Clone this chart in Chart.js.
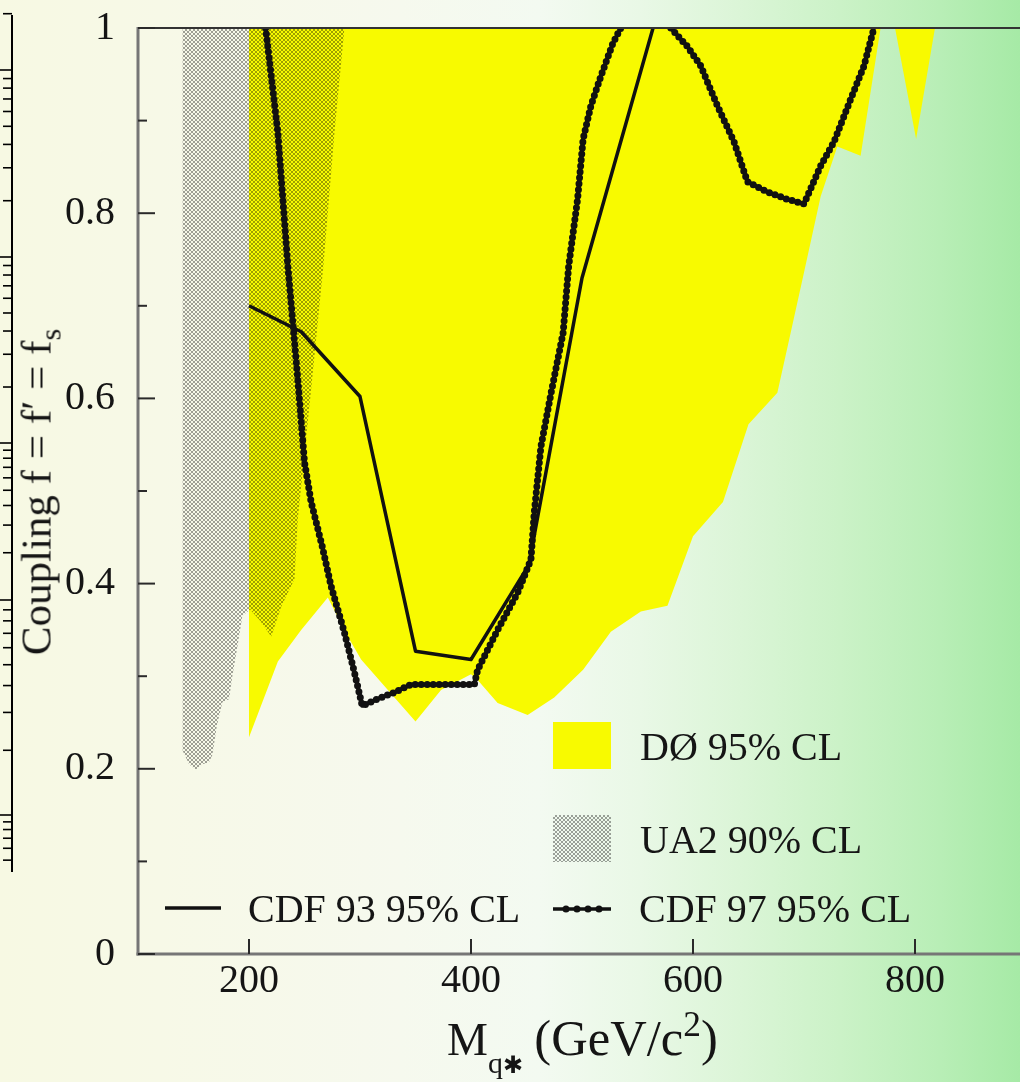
<!DOCTYPE html>
<html>
<head>
<meta charset="utf-8">
<script src="https://cdn.jsdelivr.net/npm/chart.js@4.4.1/dist/chart.umd.min.js"></script>
<style>
  html, body { margin: 0; padding: 0; }
  body {
    width: 1020px; height: 1082px; overflow: hidden; position: relative;
    background: linear-gradient(to right, #f7f9e3 0px, #f7f9e7 160px, #f6f9ee 400px, #f3faf1 540px,
                #e9f8e6 640px, #dbf5d7 740px, #cbf2c7 840px, #b8eeb6 940px, #a6eaa6 1020px);
    font-family: 'Liberation Serif', 'DejaVu Serif', serif;
    color: #151515;
  }
  #wrap { position: absolute; left: 0; top: 0; width: 1040px; height: 1082px; }
  .txt { position: absolute; font-size: 40px; line-height: 40px; white-space: nowrap; }
  .txt sub, .txt sup { font-size: 0.7em; line-height: 0; position: relative; vertical-align: baseline; }
  .txt sub { top: 0.32em; }
  .txt sup { top: -0.55em; }
  #ytitle { left: 36px; top: 492px; font-size: 43px; line-height: 43px; transform: translate(-50%, -50%) rotate(-90deg); }
  #xtitle { left: 447px; top: 1017px; font-size: 46px; line-height: 46px; }
  #xtitle sub { font-size: 0.65em; top: 0.6em; }
  #xtitle sub span { font-size: 0.8em; }
  #xtitle .unit { font-size: 1.1em; line-height: 0; }
</style>
</head>
<body>
<div id="wrap"><canvas id="limits" width="1040" height="1082"></canvas></div>

<div class="txt" style="left:640px; top:727px">DØ 95% CL</div>
<div class="txt" style="left:640px; top:820px">UA2 90% CL</div>
<div class="txt" style="left:248px; top:889px">CDF 93 95% CL</div>
<div class="txt" style="left:639px; top:889px">CDF 97 95% CL</div>
<div class="txt" id="ytitle">Coupling f = f′ = f<sub>s</sub></div>
<div class="txt" id="xtitle">M<sub>q<span>✱</span></sub> <span class="unit">(GeV/c<sup>2</sup>)</span></div>

<script>
// axis ranges and ticks
const massRange = [100, 900];
const massTicks = [200, 400, 600, 800];
const couplingTicks = [0, 0.2, 0.4, 0.6, 0.8, 1];
const couplingMinorTicks = [0.1, 0.3, 0.5, 0.7, 0.9];

// DØ 95% CL: lower edge of the excluded region (excluded up to f = 1)
const d0Mass     = [200, 226, 247, 271, 288, 301, 350, 373, 400, 406, 424, 451, 475, 501, 526, 553, 577, 600, 627, 650, 676, 688, 700, 715, 730, 751, 769, 782, 801, 818];
const d0Coupling = [0.234, 0.316, 0.350, 0.385, 0.345, 0.318, 0.251, 0.285, 0.302, 0.296, 0.271, 0.258, 0.277, 0.307, 0.348, 0.370, 0.376, 0.451, 0.488, 0.572, 0.606, 0.671, 0.736, 0.818, 0.872, 0.862, 1.0, 1.0, 0.88, 1.0];

// UA2 90% CL: lower edge of the excluded region
const ua2Mass     = [140, 146, 152, 158, 164, 167, 171, 176, 182, 185, 190, 194, 201, 210, 220, 229, 241, 244, 256, 267, 277, 286];
const ua2Coupling = [0.22, 0.205, 0.199, 0.205, 0.207, 0.215, 0.246, 0.272, 0.275, 0.30, 0.335, 0.365, 0.372, 0.36, 0.343, 0.375, 0.405, 0.47, 0.61, 0.743, 0.887, 1.0];

// CDF 1993 limit
const cdf93Mass     = [200, 247, 300, 350, 400, 452, 500, 564];
const cdf93Coupling = [0.70, 0.672, 0.602, 0.327, 0.318, 0.42, 0.73, 1.0];

// CDF 1997 limit (null: the curve runs above f = 1)
const cdf97Mass     = [215, 226, 235, 244, 250, 256, 266, 274, 286, 295, 302, 315, 330, 346, 358, 386, 403, 406, 424, 442, 454, 457, 463, 472, 483, 488, 496, 501, 508, 517, 528, 535, 557, 580, 595, 607, 622, 637, 649, 667, 685, 700, 715, 727, 742, 754, 763];
const cdf97Coupling = [1.0, 0.887, 0.743, 0.62, 0.531, 0.488, 0.44, 0.397, 0.347, 0.304, 0.268, 0.275, 0.282, 0.291, 0.291, 0.291, 0.291, 0.307, 0.35, 0.39, 0.426, 0.477, 0.548, 0.605, 0.671, 0.743, 0.815, 0.88, 0.916, 0.948, 0.984, 1.0, null, 1.0, 0.98, 0.959, 0.916, 0.877, 0.834, 0.823, 0.815, 0.81, 0.851, 0.877, 0.923, 0.959, 1.0];

const pts = (xs, ys) => xs.map((x, i) => ({ x, y: ys[i] }));

const YELLOW = '#f8fa00';
const INK = '#111';
const serif = "'Liberation Serif', 'DejaVu Serif', serif";

function crossHatch() {
    const c = document.createElement('canvas');
    c.width = c.height = 4;
    const g = c.getContext('2d');
    g.fillStyle = 'rgba(0,0,0,0.36)';
    for (let i = 0; i < 4; i++) {
        g.fillRect(i, i, 1, 1);
        g.fillRect(3 - i, i, 1, 1);
    }
    return g.createPattern(c, 'repeat');
}
const hatch = crossHatch();

// keep the tick labels from pushing the plot area around
const noOverhang = s => { s.paddingTop = s.paddingBottom = s.paddingLeft = s.paddingRight = 0; };

// frame, inward ticks, the edge of the neighbouring panel, legend keys
const decorations = {
    id: 'decorations',
    afterDatasetsDraw(chart) {
        const { ctx, chartArea: a, scales: { x, y } } = chart;
        const seg = (x1, y1, x2, y2) => { ctx.beginPath(); ctx.moveTo(x1, y1); ctx.lineTo(x2, y2); ctx.stroke(); };
        ctx.save();

        // top edge
        ctx.strokeStyle = '#333';
        ctx.lineWidth = 2;
        seg(a.left, a.top, a.right, a.top);

        // left and bottom axes
        ctx.strokeStyle = '#767676';
        ctx.lineWidth = 3;
        seg(a.left, a.top - 1, a.left, a.bottom + 1.5);
        seg(a.left - 1.5, a.bottom, a.right, a.bottom);

        // inward ticks
        ctx.strokeStyle = '#2a2a2a';
        ctx.lineWidth = 2;
        couplingTicks.forEach(v => { const py = y.getPixelForValue(v); seg(a.left, py, a.left + 17, py); });
        couplingMinorTicks.forEach(v => { const py = y.getPixelForValue(v); seg(a.left, py, a.left + 9, py); });
        massTicks.forEach(v => { const px = x.getPixelForValue(v); seg(px, a.bottom, px, a.bottom - 15); });

        // right edge of the neighbouring (log scale) panel
        ctx.strokeStyle = '#000';
        ctx.lineWidth = 2;
        seg(12, 15, 12, 872);
        const decades = [70, 257, 443, 600, 815, 965];
        ctx.lineWidth = 1.6;
        for (let d = 0; d < decades.length - 1; d++) {
            const top = decades[d], h = decades[d + 1] - top;
            seg(0, top, 12, top);
            for (let k = 2; k <= 9; k++) {
                const py = top + (1 - Math.log10(k)) * h;
                if (py < 872) seg(3, py, 12, py);
            }
        }
        seg(3, 70 - Math.log10(2) * 187, 12, 70 - Math.log10(2) * 187);

        // legend keys
        ctx.fillStyle = YELLOW;
        ctx.fillRect(553, 722, 58, 47);
        ctx.fillStyle = hatch;
        ctx.fillRect(553, 815, 58, 47);
        ctx.strokeStyle = INK;
        ctx.lineWidth = 3.5;
        seg(165, 908, 221, 908);
        ctx.lineWidth = 3.5;
        seg(553, 909, 611, 909);
        ctx.lineWidth = 7;
        ctx.lineCap = 'round';
        ctx.setLineDash([0, 11]);
        seg(566, 909, 604, 909);
        ctx.restore();
    }
};

new Chart(document.getElementById('limits'), {
    type: 'line',
    data: {
        datasets: [
            {
                // CDF 97 beads along the curve
                data: pts(cdf97Mass, cdf97Coupling),
                borderColor: INK,
                borderWidth: 7,
                borderDash: [0, 6],
                borderCapStyle: 'round',
                pointRadius: 0,
                fill: false,
                order: 0
            },
            {
                data: pts(cdf97Mass, cdf97Coupling),
                borderColor: INK,
                borderWidth: 4,
                borderJoinStyle: 'round',
                pointRadius: 0,
                fill: false,
                order: 1
            },
            {
                data: pts(cdf93Mass, cdf93Coupling),
                borderColor: INK,
                borderWidth: 3.5,
                borderJoinStyle: 'round',
                pointRadius: 0,
                fill: false,
                order: 2
            },
            {
                data: pts(ua2Mass, ua2Coupling),
                borderWidth: 0,
                pointRadius: 0,
                backgroundColor: hatch,
                fill: 'end',
                order: 3
            },
            {
                data: pts(d0Mass, d0Coupling),
                borderWidth: 0,
                pointRadius: 0,
                backgroundColor: YELLOW,
                fill: 'end',
                order: 4
            }
        ]
    },
    options: {
        responsive: false,
        animation: false,
        events: [],
        layout: { padding: { top: 28, right: 14, left: 0, bottom: 0 } },
        plugins: { legend: { display: false }, tooltip: { enabled: false } },
        scales: {
            x: {
                type: 'linear',
                min: massRange[0],
                max: massRange[1],
                grid: { display: false, drawTicks: false },
                border: { display: false },
                afterBuildTicks: s => { s.ticks = massTicks.map(v => ({ value: v })); },
                afterFit: s => { s.height = 128; noOverhang(s); },
                ticks: { font: { family: serif, size: 40 }, color: '#151515', padding: 3, maxRotation: 0 }
            },
            y: {
                min: 0,
                max: 1,
                grid: { display: false, drawTicks: false },
                border: { display: false },
                afterBuildTicks: s => { s.ticks = couplingTicks.map(v => ({ value: v })); },
                afterFit: s => { s.width = 138; noOverhang(s); },
                ticks: {
                    font: { family: serif, size: 40 },
                    color: '#151515',
                    padding: 23,
                    callback: v => String(+v.toFixed(1))
                }
            }
        }
    },
    plugins: [decorations]
});
</script>
</body>
</html>
